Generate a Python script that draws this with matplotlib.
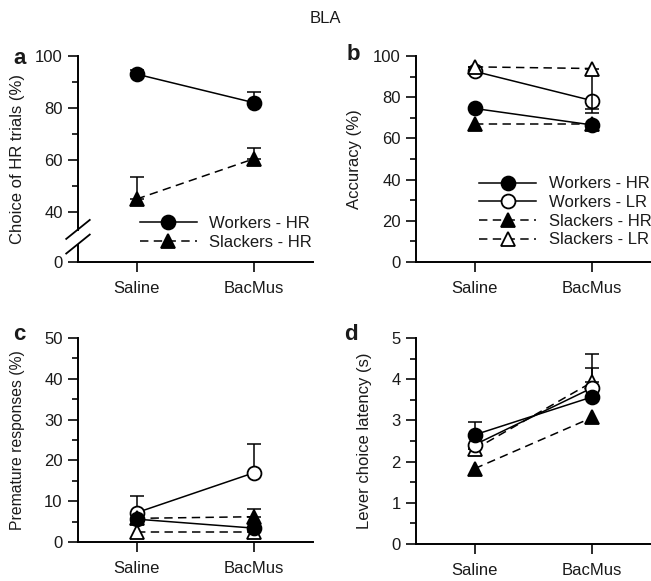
import numpy as np
import matplotlib
matplotlib.use('Agg')
import matplotlib.pyplot as plt
from matplotlib.ticker import MultipleLocator, FixedLocator

plt.rcParams['font.family'] = ['Liberation Sans', 'DejaVu Sans']
plt.rcParams['font.size'] = 12
plt.rcParams['text.color'] = '#1a1a1a'
plt.rcParams['axes.labelcolor'] = '#1a1a1a'
plt.rcParams['xtick.color'] = '#1a1a1a'
plt.rcParams['ytick.color'] = '#1a1a1a'

# Données
conditions = ['Saline', 'BacMus']
x = np.arange(len(conditions))

# a : choix des essais HR (%)
a_workers_hr = [93, 82]
a_workers_hr_err = [1.5, 4]
a_slackers_hr = [45, 60.5]
a_slackers_hr_err = [8.5, 4]

# b : précision (%)
b_workers_hr = [74.5, 66.5]
b_workers_lr = [92.5, 78.3]
b_slackers_hr = [67, 67]
b_slackers_lr = [94.7, 93.9]
b_workers_lr_err_bas = [0, 4]
b_slackers_lr_err_bas = [0, 21.6]

# c : réponses prématurées (%)
c_workers_hr = [5.6, 3.4]
c_workers_lr = [7.2, 17.0]
c_workers_lr_err = [4.1, 7.0]
c_slackers_hr = [5.8, 6.2]
c_slackers_hr_err = [0, 1.8]
c_slackers_lr = [2.5, 2.5]

# d : latence du choix du levier (s)
d_workers_hr = [2.65, 3.57]
d_workers_hr_err = [0.32, 0]
d_workers_lr = [2.41, 3.79]
d_workers_lr_err = [0, 0.48]
d_slackers_hr = [1.83, 3.07]
d_slackers_lr = [2.3, 3.93]
d_slackers_lr_err = [0, 0.68]

# Styles des séries
styles = {
    'Workers - HR': dict(marker='o', mfc='black', ls='-'),
    'Workers - LR': dict(marker='o', mfc='white', ls='-'),
    'Slackers - HR': dict(marker='^', mfc='black', ls=(0, (5.5, 3.5))),
    'Slackers - LR': dict(marker='^', mfc='white', ls=(0, (5.5, 3.5))),
}
MS = 10
LW = 1.1


def trace(ax, valeurs, nom, err_haut=None, err_bas=None, z=3):
    st = styles[nom]
    if err_haut is not None or err_bas is not None:
        haut = err_haut if err_haut is not None else [0] * len(valeurs)
        bas = err_bas if err_bas is not None else [0] * len(valeurs)
        ax.errorbar(x, valeurs, yerr=[bas, haut], fmt='none', ecolor='black',
                    elinewidth=1.1, capsize=5, capthick=1.1, zorder=z - 0.5)
    ax.plot(x, valeurs, color='black', lw=LW, ls=st['ls'], marker=st['marker'],
            ms=MS, mfc=st['mfc'], mec='black', mew=1.3, zorder=z, label=nom)


def style_axes(ax, ylabel, label_x, taille=12):
    ax.spines['top'].set_visible(False)
    ax.spines['right'].set_visible(False)
    for s in ['left', 'bottom']:
        ax.spines[s].set_linewidth(1.4)
    ax.set_xlim(-0.5, 1.5)
    ax.set_xticks(x)
    ax.set_xticklabels(conditions)
    ax.tick_params(axis='x', length=7, width=1.3, pad=7, direction='out')
    ax.tick_params(axis='y', which='major', length=7, width=1.3, pad=4, direction='out')
    ax.tick_params(axis='y', which='minor', length=4, width=1.3, direction='out')
    ax.set_ylabel(ylabel, fontsize=taille)
    ax.yaxis.set_label_coords(label_x, 0.5)


fig = plt.figure(figsize=(6.51, 5.81), dpi=100)
fig.text(0.5, 0.968, 'BLA', ha='center', va='center', fontsize=12)

ax_a = fig.add_axes([0.1198, 0.5491, 0.361, 0.3546])
ax_b = fig.add_axes([0.639, 0.5491, 0.361, 0.3546])
ax_c = fig.add_axes([0.1198, 0.0671, 0.361, 0.3511])
ax_d = fig.add_axes([0.639, 0.0637, 0.361, 0.3546])

# --- a : axe coupé entre 0 et 40
def avant(y):
    y = np.asarray(y, dtype=float)
    return np.where(y >= 40, y, 20.8 + y * 0.48)


def arriere(f):
    f = np.asarray(f, dtype=float)
    return np.where(f >= 40, f, (f - 20.8) / 0.48)


ax_a.set_yscale('function', functions=(avant, arriere))
ax_a.set_ylim(0, 100)
trace(ax_a, a_workers_hr, 'Workers - HR', err_haut=a_workers_hr_err)
trace(ax_a, a_slackers_hr, 'Slackers - HR', err_haut=a_slackers_hr_err)
style_axes(ax_a, 'Choice of HR trials (%)', -0.226)
ax_a.yaxis.set_major_locator(FixedLocator([0, 40, 60, 80, 100]))
ax_a.yaxis.set_minor_locator(FixedLocator([50, 70, 90]))
ax_a.spines['left'].set_bounds(25.6, 100)
ax_a.plot([0, 0], [0, 14.4], color='black', lw=1.4, transform=ax_a.get_yaxis_transform(),
          clip_on=False, solid_capstyle='butt')
for yc in [0.158, 0.087]:
    ax_a.plot([-0.05, 0.05], [yc - 0.046, yc + 0.046], color='black', lw=1.3,
              transform=ax_a.transAxes, clip_on=False)
ax_a.legend(loc='upper left', bbox_to_anchor=(0.264, 0.225), frameon=False, fontsize=12,
            handlelength=3.4, handletextpad=0.75, labelspacing=0.28, borderpad=0,
            borderaxespad=0)

# --- b
trace(ax_b, b_workers_hr, 'Workers - HR', z=3)
trace(ax_b, b_workers_lr, 'Workers - LR', err_bas=b_workers_lr_err_bas, z=4)
trace(ax_b, b_slackers_hr, 'Slackers - HR', z=2)
trace(ax_b, b_slackers_lr, 'Slackers - LR', err_bas=b_slackers_lr_err_bas, z=5)
ax_b.set_ylim(0, 100)
style_axes(ax_b, 'Accuracy (%)', -0.23)
ax_b.yaxis.set_major_locator(MultipleLocator(20))
ax_b.yaxis.set_minor_locator(MultipleLocator(10))
handles, labels = ax_b.get_legend_handles_labels()
ordre = ['Workers - HR', 'Workers - LR', 'Slackers - HR', 'Slackers - LR']
handles = [handles[labels.index(n)] for n in ordre]
ax_b.legend(handles, ordre, loc='upper left', bbox_to_anchor=(0.27, 0.415), frameon=False,
            fontsize=12, handlelength=3.4, handletextpad=0.75, labelspacing=0.22,
            borderpad=0, borderaxespad=0)

# --- c
trace(ax_c, c_workers_hr, 'Workers - HR', z=4)
trace(ax_c, c_workers_lr, 'Workers - LR', err_haut=c_workers_lr_err, z=3)
trace(ax_c, c_slackers_hr, 'Slackers - HR', err_haut=c_slackers_hr_err, z=5)
trace(ax_c, c_slackers_lr, 'Slackers - LR', z=2)
ax_c.set_ylim(0, 50)
style_axes(ax_c, 'Premature responses (%)', -0.226, taille=11.3)
ax_c.yaxis.set_major_locator(MultipleLocator(10))
ax_c.yaxis.set_minor_locator(MultipleLocator(5))

# --- d
trace(ax_d, d_workers_hr, 'Workers - HR', err_haut=d_workers_hr_err, z=5)
trace(ax_d, d_workers_lr, 'Workers - LR', err_haut=d_workers_lr_err, z=4)
trace(ax_d, d_slackers_hr, 'Slackers - HR', z=3)
trace(ax_d, d_slackers_lr, 'Slackers - LR', err_haut=d_slackers_lr_err, z=3.5)
ax_d.set_ylim(0, 5)
style_axes(ax_d, 'Lever choice latency (s)', -0.187)
ax_d.yaxis.set_major_locator(MultipleLocator(1))
ax_d.yaxis.set_minor_locator(MultipleLocator(0.5))

# Lettres des panneaux
for lettre, (px, py) in zip('abcd', [(20, 58), (353, 55), (19, 335), (351, 334)]):
    fig.text(px / 651, 1 - py / 581, lettre, ha='center', va='center',
             fontsize=16, fontweight='bold')

fig.savefig('out.png', dpi=100)
